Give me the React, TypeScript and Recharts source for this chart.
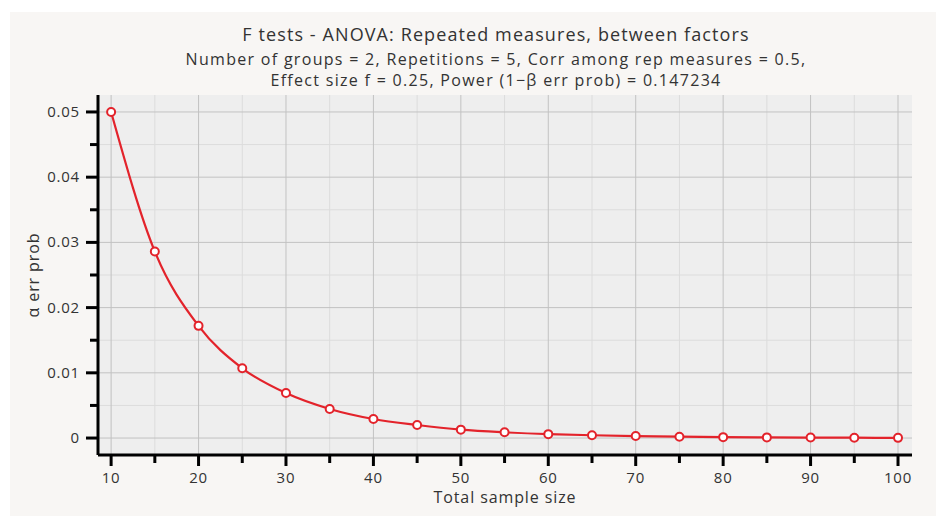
import { LineChart, Line, XAxis, YAxis, CartesianGrid, ReferenceLine } from "recharts";

const sampleSizes = [10, 15, 20, 25, 30, 35, 40, 45, 50, 55, 60, 65, 70, 75, 80, 85, 90, 95, 100];
const alphaValues = [
  0.05, 0.0286, 0.0172, 0.0107, 0.0069, 0.00446, 0.00292, 0.002, 0.00129, 0.00088, 0.0006, 0.00043, 0.0003,
  0.00021, 0.00014, 0.0001, 0.00007, 0.00005, 0.00003,
];

const xTicks = [10, 15, 20, 25, 30, 35, 40, 45, 50, 55, 60, 65, 70, 75, 80, 85, 90, 95, 100];
const xMajor = [10, 20, 30, 40, 50, 60, 70, 80, 90, 100];
const xMinor = [15, 25, 35, 45, 55, 65, 75, 85, 95];
const yTicks = [0, 0.005, 0.01, 0.015, 0.02, 0.025, 0.03, 0.035, 0.04, 0.045, 0.05];
const yMajor = [0, 0.01, 0.02, 0.03, 0.04, 0.05];
const yMinor = [0.005, 0.015, 0.025, 0.035, 0.045];

const title = "F tests - ANOVA: Repeated measures, between factors";
const subtitle1 = "Number of groups = 2, Repetitions = 5, Corr among rep measures = 0.5,";
const subtitle2 = "Effect size f = 0.25, Power (1\u2212\u03b2 err prob) = 0.147234";
const xLabel = "Total sample size";
const yLabel = "\u03b1 err prob";

const data = sampleSizes.map((n, i) => ({ n, alpha: alphaValues[i] }));

const FONT = "'Open Sans', 'DejaVu Sans', sans-serif";
const RED = "#e3232b";
const TEXT = "#333";

function XTick(props: any) {
  const { x, y, payload } = props;
  const major = xMajor.includes(payload.value);
  return (
    <g>
      <line x1={x} x2={x} y1={y} y2={y + (major ? 11 : 8)} stroke="#000" strokeWidth={3} />
      {major && (
        <text x={x} y={y + 28} textAnchor="middle" fontSize={15} letterSpacing={0.8} fill={TEXT} fontFamily={FONT}>
          {payload.value}
        </text>
      )}
    </g>
  );
}

function YTick(props: any) {
  const { x, y, payload } = props;
  const major = yMajor.some((v) => Math.abs(v - payload.value) < 1e-9);
  return (
    <g>
      <line x1={x - (major ? 12 : 8)} x2={x} y1={y} y2={y} stroke="#000" strokeWidth={3} />
      {major && (
        <text x={x - 18} y={y + 5} textAnchor="end" fontSize={15} letterSpacing={0.8} fill={TEXT} fontFamily={FONT}>
          {payload.value}
        </text>
      )}
    </g>
  );
}

function Dot(props: any) {
  const { cx, cy } = props;
  return <circle cx={cx} cy={cy} r={4} fill="#fff" stroke={RED} strokeWidth={2} />;
}

export default function App() {
  return (
    <div style={{ position: "absolute", left: 0, top: 0, width: 936, height: 516, background: "#fff", fontFamily: FONT, color: TEXT }}>
      <div style={{ position: "absolute", left: 10, top: 12, width: 926, height: 504, background: "#f8f6f4" }} />
      <div style={{ position: "absolute", left: 0, top: 22, width: 992, textAlign: "center", fontSize: 18, letterSpacing: 1.1, lineHeight: "25px" }}>
        {title}
      </div>
      <div style={{ position: "absolute", left: 0, top: 49, width: 992, textAlign: "center", fontSize: 16, letterSpacing: 1.3, lineHeight: "21px" }}>
        <div>{subtitle1}</div>
        <div>{subtitle2}</div>
      </div>
      <div style={{ position: "absolute", left: 0, top: 0 }}>
        <LineChart width={936} height={516} data={data} margin={{ top: 95, right: 24, bottom: 31, left: 38 }}>
          <CartesianGrid fill="#eeeeee" stroke="none" />
          {xMinor.map((v) => (
            <ReferenceLine key={"xm" + v} x={v} stroke="#dcdcdc" strokeWidth={1} />
          ))}
          {yMinor.map((v) => (
            <ReferenceLine key={"ym" + v} y={v} stroke="#dcdcdc" strokeWidth={1} />
          ))}
          {xMajor.map((v) => (
            <ReferenceLine key={"xM" + v} x={v} stroke="#c2c2c2" strokeWidth={1} />
          ))}
          {yMajor.map((v) => (
            <ReferenceLine key={"yM" + v} y={v} stroke="#c2c2c2" strokeWidth={1} />
          ))}
          <XAxis
            dataKey="n"
            type="number"
            domain={[8.5, 101.6]}
            ticks={xTicks}
            allowDataOverflow
            height={30}
            axisLine={{ stroke: "#000", strokeWidth: 3 }}
            tickLine={false}
            tickSize={0}
            tickMargin={0}
            tick={<XTick />}
            interval={0}
          />
          <YAxis
            type="number"
            domain={[-0.0026, 0.0526]}
            ticks={yTicks}
            allowDataOverflow
            width={60}
            axisLine={{ stroke: "#000", strokeWidth: 3 }}
            tickLine={false}
            tickSize={0}
            tickMargin={0}
            tick={<YTick />}
            interval={0}
          />
          <Line
            type="monotone"
            dataKey="alpha"
            stroke={RED}
            strokeWidth={2.2}
            dot={<Dot />}
            activeDot={false}
            isAnimationActive={false}
          />
        </LineChart>
      </div>
      <div style={{ position: "absolute", left: 405, top: 486, width: 200, textAlign: "center", fontSize: 16, letterSpacing: 0.9, lineHeight: "22px" }}>
        {xLabel}
      </div>
      <div
        style={{
          position: "absolute",
          left: 33 - 70,
          top: 275 - 11,
          width: 140,
          textAlign: "center",
          fontSize: 16,
          letterSpacing: 0.9,
          lineHeight: "22px",
          transform: "rotate(-90deg)",
        }}
      >
        {yLabel}
      </div>
    </div>
  );
}
